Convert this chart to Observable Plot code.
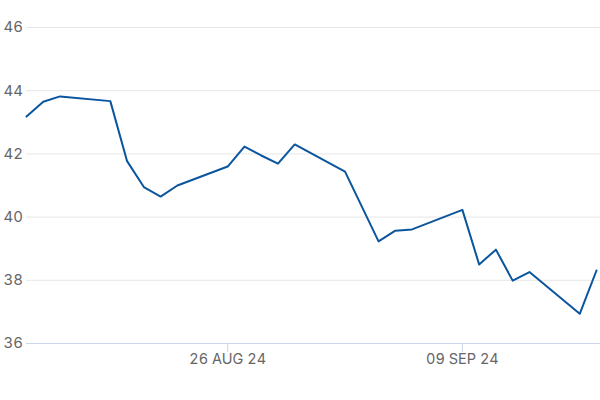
<!DOCTYPE html>
<html>
<head>
<meta charset="utf-8">
<script src="https://cdn.jsdelivr.net/npm/d3@7"></script>
<script src="https://cdn.jsdelivr.net/npm/@observablehq/plot@0.6"></script>
<style>
  html, body { margin: 0; padding: 0; background: #fff; }
  #chart { width: 600px; height: 400px; }
</style>
</head>
<body>
<div id="chart"></div>
<script>
const dates = [
  "2024-08-14","2024-08-15","2024-08-16","2024-08-19","2024-08-20","2024-08-21",
  "2024-08-22","2024-08-23","2024-08-26","2024-08-27","2024-08-28","2024-08-29",
  "2024-08-30","2024-09-02","2024-09-04","2024-09-05","2024-09-06","2024-09-09",
  "2024-09-10","2024-09-11","2024-09-12","2024-09-13","2024-09-16","2024-09-17"
];
const values = [
  43.18, 43.65, 43.82, 43.67, 41.77, 40.95,
  40.65, 41.00, 41.60, 42.23, 41.95, 41.69,
  42.30, 41.44, 39.23, 39.57, 39.61, 40.23,
  38.50, 38.97, 37.99, 38.26, 36.94, 38.31
];
const yTicks = [36, 38, 40, 42, 44, 46];
const xTicks = ["2024-08-26", "2024-09-09"];

const data = dates.map((d, i) => ({date: new Date(d + "T00:00:00Z"), value: values[i]}));
const xTickDates = xTicks.map(d => new Date(d + "T00:00:00Z"));
const fmt = d3.utcFormat("%d %b %y");

const chart = Plot.plot({
  width: 600,
  height: 400,
  marginTop: 27,
  marginBottom: 57,
  marginLeft: 26,
  marginRight: 4,
  style: {fontFamily: "Inter, Arial, sans-serif", fontSize: "15px", color: "#666", background: "#fff"},
  x: {type: "utc", domain: [data[0].date, data[data.length - 1].date], range: [26, 596]},
  y: {domain: [36, 46]},
  marks: [
    Plot.ruleY(yTicks.filter(t => t !== 36), {stroke: "#e6e6e6", strokeOpacity: 1, insetRight: -4}),
    Plot.ruleY([36], {stroke: "#ccd6eb", strokeOpacity: 1, insetRight: -4}),
    Plot.axisY({ticks: yTicks, tickSize: 0, tickPadding: 0, textAnchor: "start", dx: -23, fill: "#666", fontSize: 15, label: null}),
    Plot.axisX({ticks: xTickDates, tickSize: 9, tickPadding: 1, stroke: "#ccd6eb", fill: "#666", fontSize: 14.5, tickFormat: d => fmt(d).toUpperCase(), label: null}),
    Plot.line(data, {x: "date", y: "value", stroke: "#0b559e", strokeWidth: 2, curve: "linear"})
  ]
});
document.getElementById("chart").appendChild(chart);
</script>
</body>
</html>
